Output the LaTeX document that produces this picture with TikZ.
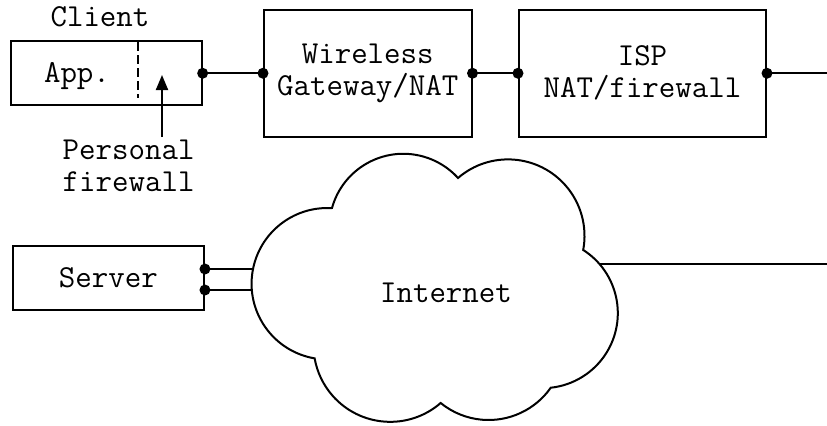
\documentclass[tikz,border=0pt]{standalone}
\usetikzlibrary{arrows.meta}
\begin{document}
\begin{tikzpicture}[x=0.5pt,y=-0.5pt,line width=1pt,
  every node/.style={font=\ttfamily\fontsize{16}{16}\selectfont},
  box/.style={draw,rectangle,inner sep=0pt,align=center},
  port/.style={circle,fill,inner sep=0pt,minimum size=5.5pt},
  wire/.style={line width=1pt},
  cloudline/.style={line width=1pt,line join=miter}]
\useasboundingbox (0,0) rectangle (827,425);
% client
\node[box,minimum width=95.35pt,minimum height=32pt] (client) at (106.3,73.25) {};
\node[anchor=base] (clientlbl) at (100,26) {Client};
\node[anchor=base] (app) at (77,82) {App.};
\draw[dash pattern=on 4.5pt off 2pt] (138,42) -- (138,98);
% gateway and ISP
\node[box,minimum width=103.75pt,minimum height=63.25pt] (gw) at (367.75,73.25) {Wireless\\Gateway/NAT};
\node[box,minimum width=123.5pt,minimum height=63.25pt] (isp) at (642.5,73.25) {ISP\\NAT/firewall};
\coordinate (east) at (827,73.25);
% personal firewall
\node[align=center] (pf) at (128.6,165.8) {Personal\\firewall};
\coordinate (pftail) at (162,137);
\coordinate (pftip) at (162,75);
\draw[-{Triangle[length=7.5pt,width=6pt]}] (pftail) -- (pftip);
% connectors top
\draw[wire] (client.east) -- (gw.west);
\draw[wire] (gw.east) -- (isp.west);
\draw[wire] (isp.east) -- (east);
\node[port] at (client.east) {};
\node[port] at (gw.west) {};
\node[port] at (gw.east) {};
\node[port] at (isp.west) {};
\node[port] at (isp.east) {};
% server
\node[box,minimum width=95.65pt,minimum height=32pt] (server) at (108.3,278) {Server};
% cloud
\draw[cloudline] (332,208) arc[start angle=-164.5,end angle=-42.3,radius=74]
  arc[start angle=-130.8,end angle=10.6,radius=76.5]
  arc[start angle=-57.4,end angle=83.9,radius=75]
  arc[start angle=35.1,end angle=129.1,radius=76]
  arc[start angle=49.0,end angle=170.0,radius=76.8]
  arc[start angle=99.6,end angle=273.3,radius=75.7] -- cycle;
\node[anchor=base] (inet) at (446,302) {Internet};
\coordinate (c1) at (253.4,269);
\coordinate (c2) at (252.3,290);
\coordinate (cr) at (599.3,263.5);
\coordinate (far) at (827,263.5);
\draw[wire] ([yshift=4.5pt]server.east) -- (c1);
\draw[wire] ([yshift=-6pt]server.east) -- (c2);
\node[port] at ([yshift=4.5pt]server.east) {};
\node[port] at ([yshift=-6pt]server.east) {};
\draw[wire] (cr) -- (far);
\end{tikzpicture}
\end{document}
